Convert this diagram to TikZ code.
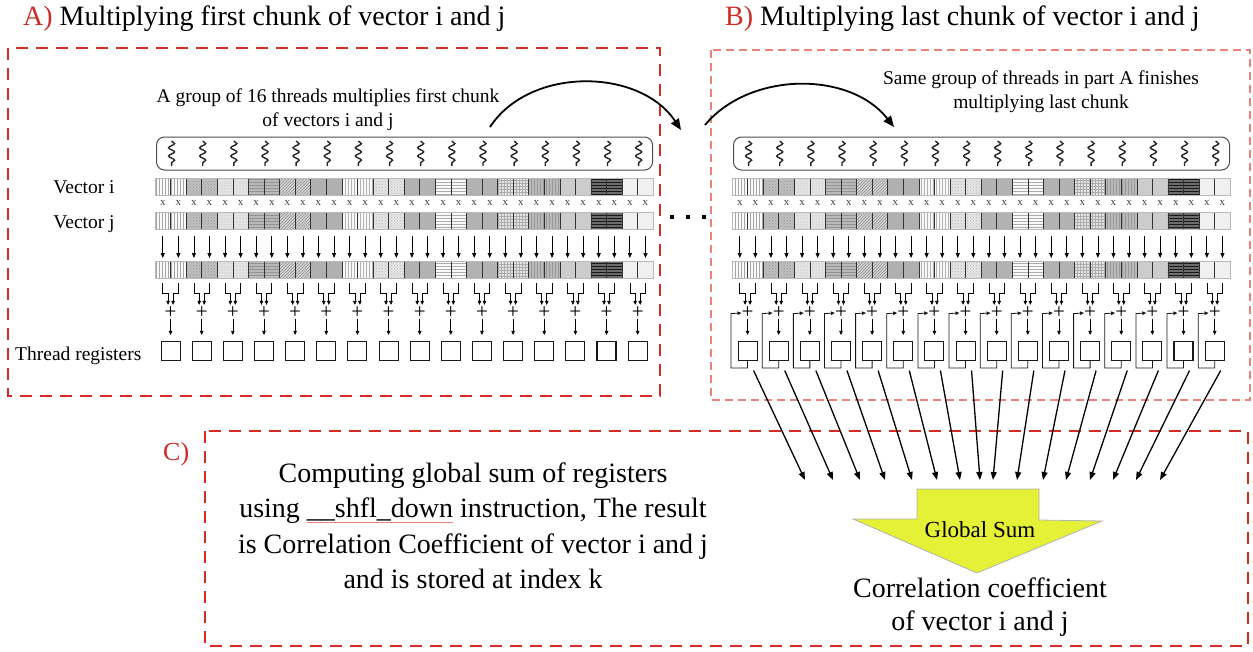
\documentclass[tikz,border=0pt]{standalone}
\usepackage{fontspec}
\setmainfont{Liberation Serif}
\usetikzlibrary{arrows.meta, positioning, patterns, decorations.pathmorphing}

\definecolor{boxred}{RGB}{212,44,36}
\definecolor{lightred}{RGB}{234,130,122}
\definecolor{titlered}{RGB}{204,45,35}
\definecolor{sumyellow}{RGB}{229,241,54}

\def\cw{15.57}
\newsavebox{\spellbox}
\newcommand{\spellmark}[1]{\sbox{\spellbox}{#1}\rlap{\textcolor{lightred}{\rule[-0.18em]{\wd\spellbox}{0.05em}}}\usebox{\spellbox}}

\begin{document}
\begin{tikzpicture}[x=1pt, y=-1pt,
    framered/.style={draw=boxred, line width=1.8pt, dash pattern=on 12pt off 8pt},
    framelight/.style={draw=lightred, line width=1.1pt, dash pattern=on 8pt off 5pt},
    threadbox/.style={draw=gray!60!black, line width=1pt, rounded corners=8pt,
        minimum width=496pt, minimum height=33pt, inner sep=0pt},
    squiggle/.style={draw=gray!30!black, line width=1.4pt, decorate,
        decoration={snake, amplitude=3pt, segment length=8.3pt}},
    cellline/.style={draw=gray!40!black, line width=0.6pt},
    barframe/.style={draw=gray!55, line width=1pt},
    timesmark/.style={font=\fontsize{11}{11}\selectfont, text=gray!50!black, inner sep=0pt},
    multarrow/.style={draw=black, line width=0.8pt, -{Triangle[length=5pt, width=4pt]}},
    feedarrow/.style={draw=black, line width=0.7pt, -{Triangle[length=4pt, width=3.5pt]}},
    plussign/.style={font=\fontsize{21}{21}\selectfont, inner sep=0pt},
    register/.style={draw=gray!20!black, line width=1.1pt, minimum size=19pt, inner sep=0pt},
    loopline/.style={draw=gray!20!black, line width=0.8pt, -{Triangle[length=4pt, width=3.5pt]}},
    sumline/.style={draw=black, line width=1.3pt, -{Triangle[length=8pt, width=6pt]}},
    bigarc/.style={draw=black, line width=1.8pt, -{Triangle[length=11pt, width=9pt]}},
    sumarrow/.style={draw=gray!60, line width=0.8pt, fill=sumyellow},
    dotmark/.style={fill=black, minimum size=3.5pt, inner sep=0pt},
    title/.style={font=\fontsize{28}{34}\selectfont, anchor=base west, inner sep=0pt},
    midtext/.style={font=\fontsize{19.5}{24}\selectfont, align=center, inner sep=0pt},
    bigtext/.style={font=\fontsize{28}{35.5}\selectfont, align=center, inner sep=0pt},
    cell1/.style={preaction={fill=gray!5}, pattern=vertical lines, pattern color=gray!70},
    cell2/.style={preaction={fill=gray!50}, pattern=crosshatch dots, pattern color=gray!80},
    cell3/.style={preaction={fill=gray!22}, pattern=dots, pattern color=gray!60},
    cell4/.style={preaction={fill=gray!55}, pattern=horizontal lines, pattern color=gray!85},
    cell5/.style={preaction={fill=gray!35}, pattern=north east lines, pattern color=gray!85},
    cell6/.style={fill=gray!62},
    cell7/.style={preaction={fill=gray!5}, pattern=vertical lines, pattern color=gray!60},
    cell8/.style={preaction={fill=gray!20}, pattern=crosshatch dots, pattern color=gray!55},
    cell9/.style={fill=gray!60},
    cell10/.style={preaction={fill=gray!5}, pattern=horizontal lines, pattern color=gray!65},
    cell11/.style={fill=gray!60},
    cell12/.style={preaction={fill=gray!22}, pattern=grid, pattern color=gray!65},
    cell13/.style={preaction={fill=gray!55}, pattern=vertical lines, pattern color=gray!80},
    cell14/.style={fill=gray!40},
    cell15/.style={preaction={fill=gray!85!black}, pattern=horizontal lines, pattern color=black!90},
    cell16/.style={fill=gray!12}
]
    \useasboundingbox (0,0) rectangle (1253,651);

    % Frames
    \draw[framered] (8,48) rectangle (660,396);
    \draw[framelight] (711,50) rectangle (1250,400);
    \draw[framered] (205,431) rectangle (1248,646);

    % Titles and texts
    \node[title] (titleA) at (23,25) {\textcolor{titlered}{A)} Multiplying first chunk of vector i and j};
    \node[title] (titleB) at (725,25) {\textcolor{titlered}{B)} Multiplying last chunk of vector i and j};
    \node[title, font=\fontsize{26}{30}\selectfont] (titleC) at (163,460) {\textcolor{titlered}{C)}};
    \node[midtext] (textA) at (328,110) {A group of 16 threads multiplies first chunk\\of vectors i and j};
    \node[midtext] (textB) at (1041,91.5) {Same group of threads in part A finishes\\multiplying last chunk};
    \node[midtext, anchor=base] (veci) at (84,193) {Vector i};
    \node[midtext, anchor=base] (vecj) at (84,228) {Vector j};
    \node[midtext, anchor=base west] (regtext) at (15,360) {Thread registers};
    \node[bigtext] (textC) at (473,526) {Computing global sum of registers\\using \spellmark{\_\_shfl\_down} instruction, The result\\is Correlation Coefficient of vector i and j\\and is stored at index k};

    % Panels A and B
    \foreach \pn/\px in {A/155, B/732}{
        \node[threadbox] (threads\pn) at (\px+249.5, 153.5) {};
        \foreach \k in {1,...,16}{
            \pgfmathsetmacro{\pc}{\px+(2*\k-1)*\cw}
            \draw[squiggle] (\pc+1, 141) -- ++(0,25);
            \foreach \h in {0,1}{
                \pgfmathsetmacro{\cl}{\px+(2*\k-2+\h)*\cw}
                \foreach \by in {178,212,261}{
                    \draw[cellline, cell\k] (\cl, \by) rectangle ++(\cw,17);
                }
                \node[timesmark] (times\pn\k\h) at (\cl+0.5*\cw, 203) {x};
                \draw[multarrow] (\cl+0.5*\cw, 236) -- ++(0,22);
            }
            \node[plussign] (plus\pn\k) at (\pc, 313) {+};
            \node[register] (reg\pn\k) at (\pc, 351) {};
            \draw[feedarrow, shorten >=2pt] (\pc-0.5*\cw, 283) |- (\pc-2.5, 293) -- ([xshift=-2.5pt]plus\pn\k.north);
            \draw[feedarrow, shorten >=2pt] (\pc+0.5*\cw, 283) |- (\pc+2.5, 293) -- ([xshift=2.5pt]plus\pn\k.north);
            \draw[feedarrow, shorten >=6pt] (plus\pn\k) -- (reg\pn\k);
        }
        \foreach \by in {178,212,261}
            \draw[barframe] (\px,\by) rectangle ++(32*\cw,17);
    }

    % Accumulation loops of part B
    \foreach \k in {1,...,16}
        \draw[loopline] (regB\k.south) -- ++(0,7) -| ++(-16.5,-54.5) -- (plusB\k.west);

    % Chunk dots
    \foreach \d/\dx in {1/672, 2/688, 3/704}
        \node[dotmark] (dot\d) at (\dx,217) {};

    % Curved arrows
    \coordinate (arcAfrom) at (490,127);
    \coordinate (arcAto) at (681,130);
    \coordinate (arcBfrom) at (705,125);
    \coordinate (arcBto) at (894,127);
    \draw[bigarc] (arcAfrom) .. controls (530,66) and (640,68) .. (arcAto);
    \draw[bigarc] (arcBfrom) .. controls (750,71) and (850,71) .. (arcBto);

    % Global sum
    \draw[sumarrow] (917,489) -- (1039,489) -- (1039,520) -- (1102,521) -- (977,573)
        -- (853,519) -- (917,519) -- cycle;
    \node[font=\fontsize{23}{28}\selectfont, anchor=base, inner sep=0pt] (globalsum) at (980,537) {Global Sum};
    \node[bigtext, font=\fontsize{28}{33}\selectfont] (result) at (980,607) {Correlation coefficient\\of vector i and j};

    \foreach \k/\ex in {1/805, 2/833, 3/860, 4/885, 5/912, 6/937, 7/960, 8/980,
                        9/993, 10/1017, 11/1043, 12/1066, 13/1090, 14/1113, 15/1136, 16/1160}{
        \coordinate (in\k) at (\ex,480);
        \draw[sumline] ([xshift=6pt, yshift=-9.5pt]regB\k.south) -- (in\k);
    }
\end{tikzpicture}
\end{document}
